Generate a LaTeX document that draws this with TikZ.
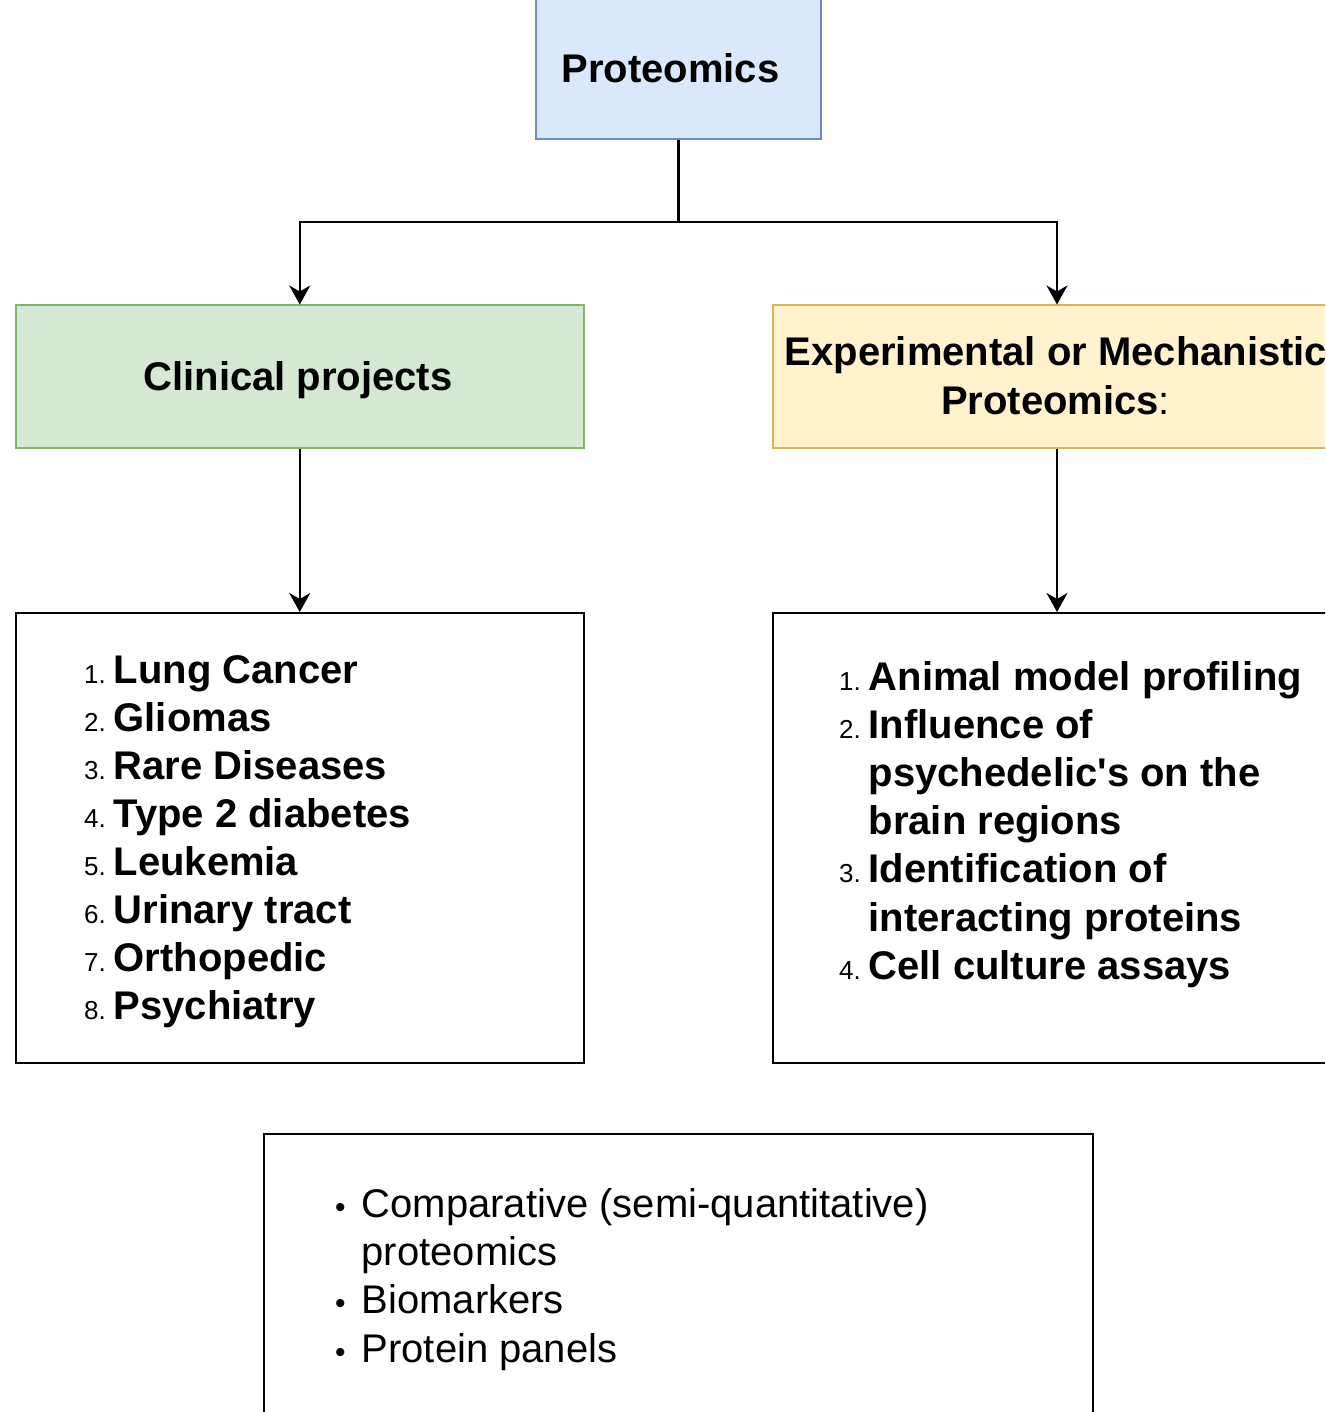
\documentclass[tikz,border=0pt]{standalone}
\usepackage{fontspec}
\setmainfont{Liberation Sans}
\usetikzlibrary{arrows.meta}
\definecolor{blueF}{HTML}{DAE8FC}\definecolor{blueS}{HTML}{6C8EBF}
\definecolor{greenF}{HTML}{D5E8D4}\definecolor{greenS}{HTML}{82B366}
\definecolor{yellowF}{HTML}{FFF2CC}\definecolor{yellowS}{HTML}{D6B656}
\begin{document}
\begin{tikzpicture}[x=1pt,y=-1pt,
  box/.style={draw, line width=2pt, inner sep=0pt, rectangle},
  arr/.style={line width=2.5pt, -{Stealth[length=19pt,width=21pt,inset=6pt]}},
  big/.style={inner sep=0pt, font=\bfseries\fontsize{40}{48}\selectfont},
  plain/.style={inner sep=0pt, font=\fontsize{40}{48}\selectfont},
  num/.style={inner sep=0pt, font=\fontsize{26}{30}\selectfont, anchor=base east},
  bul/.style={inner sep=0pt, font=\fontsize{30}{30}\selectfont, anchor=base west},
  item/.style={big, anchor=base west}]
\path[use as bounding box] (0,0) rectangle (1325,1412);
\clip (0,0) rectangle (1325,1412);
\fill[white] (0,0) rectangle (1325,1412);

% boxes
\node[box, draw=blueS, fill=blueF, minimum width=284.5pt, minimum height=149.5pt] (prot) at (678.25,64.75) {};
\node[box, draw=greenS, fill=greenF, minimum width=567.5pt, minimum height=142pt] (clin) at (299.75,376.5) {};
\node[box, draw=yellowS, fill=yellowF, minimum width=568pt, minimum height=142pt] (exp) at (1057,376.5) {};
\node[box, minimum width=567.5pt, minimum height=450pt] (clist) at (299.75,838) {};
\node[box, minimum width=568pt, minimum height=450pt] (elist) at (1057,838) {};
\node[box, minimum width=829pt, minimum height=310pt] (bot) at (678,1289) {};

% connectors
\coordinate (j) at (678.25,222);
\draw[arr] (prot.south) -- (j) -| (clin.north);
\draw[arr] (j) -| (exp.north);
\draw[arr] (clin.south) -- (clist.north);
\draw[arr] (exp.south) -- (elist.north);

% titles
\node[big, anchor=base] (protT) at (670.5,83) {Proteomics};
\node[big, anchor=base] (clinT) at (298,390) {Clinical projects};
\node[big, anchor=base] (expT1) at (1056,365) {Experimental or Mechanistic};
\node[big, anchor=base] (expT2) at (1055.5,414) {Proteomics\textmd{:}};

% clinical list
\foreach \t [count=\i] in {Lung Cancer, Gliomas, Rare Diseases, Type 2 diabetes, Leukemia, Urinary tract, Orthopedic, Psychiatry} {
  \node[num] (cn\i) at (106,{683+48.05*(\i-1)}) {\i.};
  \node[item] (ct\i) at (113.5,{683+48.05*(\i-1)}) {\t};
}

% experimental list
\node[num] (en1) at (861,690) {1.};
\node[item] (et1) at (868.5,690) {Animal model profiling};
\node[num] (en2) at (861,738.2) {2.};
\node[item] (et2) at (868.5,738.2) {Influence of};
\node[item] (et3) at (868.5,786.4) {psychedelic\textquotesingle s on the};
\node[item] (et4) at (868.5,834.6) {brain regions};
\node[num] (en3) at (861,882.8) {3.};
\node[item] (et5) at (868.5,882.8) {Identification of};
\node[item] (et6) at (868.5,931) {interacting proteins};
\node[num] (en4) at (861,979.2) {4.};
\node[item] (et7) at (868.5,979.2) {Cell culture assays};

% bottom list
\node[bul] (b1) at (335,1217) {•};
\node[plain, anchor=base west] (bt1) at (361.5,1217) {Comparative (semi-quantitative)};
\node[plain, anchor=base west] (bt2) at (361.5,1265.4) {proteomics};
\node[bul] (b2) at (335,1313.8) {•};
\node[plain, anchor=base west] (bt3) at (361.5,1313.8) {Biomarkers};
\node[bul] (b3) at (335,1362.2) {•};
\node[plain, anchor=base west] (bt4) at (361.5,1362.2) {Protein panels};
\end{tikzpicture}
\end{document}
